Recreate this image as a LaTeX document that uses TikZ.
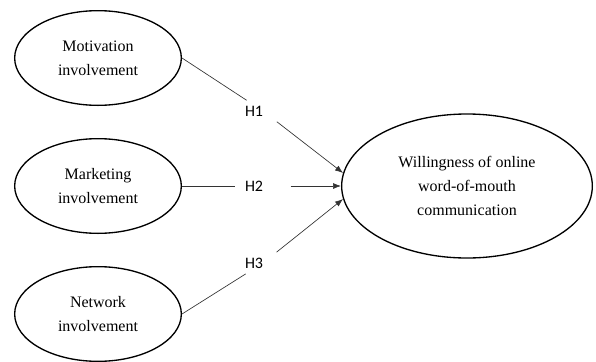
\documentclass[tikz,border=0pt]{standalone}
\usepackage{fontspec}
\setmainfont{Liberation Serif}
\newfontfamily\hypfont{Carlito}
\usetikzlibrary{shapes.geometric,arrows.meta}

\begin{document}
\begin{tikzpicture}[x=0.75pt,y=-0.75pt,
  factor/.style={draw,ellipse,line width=1pt,minimum width=125pt,minimum height=71pt,
    inner sep=0pt,align=center,font=\fontsize{12}{18}\selectfont},
  hyp/.style={inner xsep=7pt,inner ysep=4pt,text width=27pt,align=left,
    font=\hypfont\fontsize{12}{14}\selectfont},
  link/.style={draw=black!80,line width=0.5pt}]
\useasboundingbox (0,0) rectangle (596,361);
\node[factor,minimum width=188pt,minimum height=108pt] (wom) at (467,186)
  {Willingness of online\\word-of-mouth\\communication};
\foreach \n/\y/\hy/\a/\txt in {1/58/111/174/{Motivation\\involvement},
                                2/186/186/180/{Marketing\\involvement},
                                3/314/263/186/{Network\\involvement}}
{
  \node[factor] (f\n) at (98,\y) {\txt};
  \node[hyp] (h\n) at (263,\hy) {H\n};
  \draw[link] (f\n.east) -- (h\n);
  \draw[link,-{Latex[length=6pt,width=4.5pt]}] (h\n) -- (wom.\a);
}
\end{tikzpicture}
\end{document}
